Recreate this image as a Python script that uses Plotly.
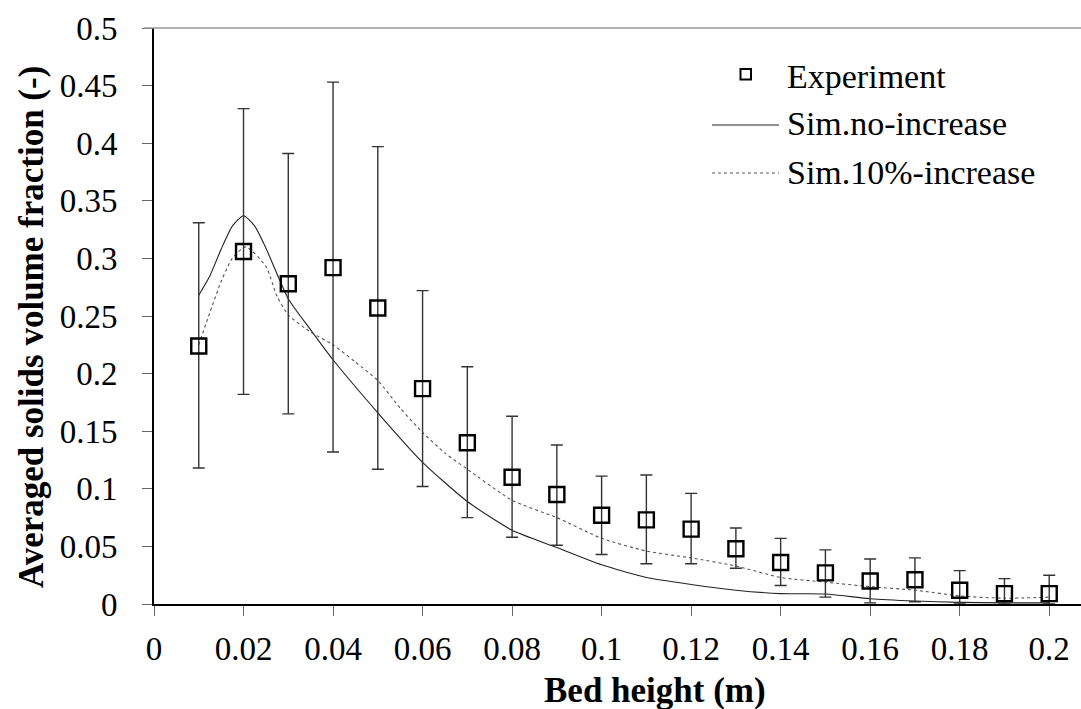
import plotly.graph_objects as go

# ---------------- data ----------------
exp_x = [0.01, 0.02, 0.03, 0.04, 0.05, 0.06, 0.07, 0.08, 0.09, 0.10,
         0.11, 0.12, 0.13, 0.14, 0.15, 0.16, 0.17, 0.18, 0.19, 0.20]
exp_y = [0.224, 0.306, 0.278, 0.292, 0.257, 0.187, 0.140, 0.110, 0.095, 0.077,
         0.073, 0.065, 0.048, 0.036, 0.027, 0.020, 0.021, 0.012, 0.009, 0.009]
exp_hi = [0.331, 0.430, 0.391, 0.453, 0.397, 0.272, 0.206, 0.163, 0.138, 0.111,
          0.112, 0.096, 0.066, 0.057, 0.047, 0.039, 0.040, 0.029, 0.022, 0.025]
exp_lo = [0.118, 0.182, 0.165, 0.132, 0.117, 0.102, 0.075, 0.058, 0.051, 0.043,
          0.035, 0.035, 0.031, 0.016, 0.006, 0.001, 0.002, 0.000, 0.000, 0.000]

sim0_x = [0.01, 0.0125, 0.015, 0.0175, 0.02, 0.0225, 0.025, 0.03, 0.035, 0.04,
          0.05, 0.06, 0.07, 0.08, 0.09, 0.10, 0.11, 0.12, 0.13, 0.14,
          0.15, 0.16, 0.17, 0.18, 0.19, 0.20]
sim0_y = [0.268, 0.285, 0.308, 0.328, 0.337, 0.328, 0.309, 0.265, 0.238, 0.212,
          0.166, 0.123, 0.089, 0.064, 0.049, 0.034, 0.023, 0.017, 0.012, 0.009,
          0.0087, 0.0046, 0.0026, 0.0014, 0.001, 0.001]

sim10_x = [0.01, 0.015, 0.0175, 0.0205, 0.025, 0.0275, 0.03, 0.035, 0.04, 0.045,
           0.05, 0.055, 0.06, 0.065, 0.07, 0.08, 0.09, 0.10, 0.11, 0.12,
           0.13, 0.14, 0.15, 0.16, 0.17, 0.18, 0.19, 0.20]
sim10_y = [0.225, 0.280, 0.300, 0.310, 0.293, 0.267, 0.251, 0.236, 0.225, 0.210,
           0.194, 0.170, 0.149, 0.131, 0.117, 0.090, 0.075, 0.057, 0.046, 0.040,
           0.033, 0.023, 0.019, 0.015, 0.012, 0.007, 0.005, 0.006]

x_ticks = [0, 0.02, 0.04, 0.06, 0.08, 0.1, 0.12, 0.14, 0.16, 0.18, 0.2]
x_tick_labels = ["0", "0.02", "0.04", "0.06", "0.08", "0.1", "0.12", "0.14", "0.16", "0.18", "0.2"]
y_ticks = [0, 0.05, 0.1, 0.15, 0.2, 0.25, 0.3, 0.35, 0.4, 0.45, 0.5]
y_tick_labels = ["0", "0.05", "0.1", "0.15", "0.2", "0.25", "0.3", "0.35", "0.4", "0.45", "0.5"]

legend_names = ["Experiment", "Sim.no-increase", "Sim.10%-increase"]

# ---------------- layout geometry ----------------
W, H = 1081, 709
L, R, T, B = 154, 0, 28, 105
PW, PH = W - L - R, H - T - B
FONT = "'Liberation Serif', 'Times New Roman', Times, serif"
FS = 33

def px(xp):
    return (xp - L) / PW

def py(yp):
    return (H - B - yp) / PH

fig = go.Figure()

fig.add_trace(go.Scatter(
    x=sim0_x, y=sim0_y, mode="lines", name=legend_names[1],
    line=dict(color="#222222", width=1.1, shape="spline", smoothing=0.6),
    showlegend=False))

fig.add_trace(go.Scatter(
    x=sim10_x, y=sim10_y, mode="lines", name=legend_names[2],
    line=dict(color="#555555", width=1.1, dash="dot", shape="spline", smoothing=0.6),
    showlegend=False))

fig.add_trace(go.Scatter(
    x=exp_x, y=exp_y, mode="markers", name=legend_names[0],
    marker=dict(symbol="square-open", size=15, color="black", line=dict(width=2.4, color="black")),
    error_y=dict(type="data", symmetric=False,
                 array=[h - v for h, v in zip(exp_hi, exp_y)],
                 arrayminus=[v - l for v, l in zip(exp_y, exp_lo)],
                 color="#333333", thickness=1.4, width=6),
    showlegend=False))

fig.update_layout(
    width=W, height=H,
    margin=dict(l=L, r=R, t=T, b=B),
    paper_bgcolor="white", plot_bgcolor="white",
    font=dict(family=FONT, size=FS, color="black"),
    showlegend=False,
    xaxis=dict(range=[0, 0.2071], tickvals=x_ticks, ticktext=x_tick_labels,
               showgrid=False, zeroline=False, showline=True, linecolor="black", linewidth=1.6,
               ticks="outside", ticklen=10, tickcolor="#666666", tickwidth=1.2,
               ticklabelstandoff=5,
               tickfont=dict(family=FONT, size=FS)),
    yaxis=dict(range=[0, 0.5], tickvals=y_ticks, ticktext=y_tick_labels,
               showgrid=False, zeroline=False, showline=True, linecolor="black", linewidth=1.6,
               ticks="outside", ticklen=10, tickcolor="#666666", tickwidth=1.2,
               ticklabelstandoff=18,
               tickfont=dict(family=FONT, size=FS)),
)

shapes = [
    # top border line
    dict(type="line", xref="paper", yref="paper", x0=px(144), x1=1, y0=1, y1=1,
         line=dict(color="#9a9a9a", width=1.6)),
    # legend symbols
    dict(type="rect", xref="paper", yref="paper", x0=px(740.5), x1=px(751), y0=py(79.5), y1=py(69),
         line=dict(color="black", width=2)),
    dict(type="line", xref="paper", yref="paper", x0=px(712), x1=px(779), y0=py(125), y1=py(125),
         line=dict(color="#222222", width=1.1)),
    dict(type="line", xref="paper", yref="paper", x0=px(712), x1=px(779), y0=py(173), y1=py(173),
         line=dict(color="#555555", width=1.1, dash="dot")),
]

annotations = [
    dict(text=legend_names[0], xref="paper", yref="paper", x=px(785), y=py(76),
         xanchor="left", yanchor="middle", showarrow=False, font=dict(family=FONT, size=34)),
    dict(text=legend_names[1], xref="paper", yref="paper", x=px(785), y=py(124),
         xanchor="left", yanchor="middle", showarrow=False, font=dict(family=FONT, size=34)),
    dict(text=legend_names[2], xref="paper", yref="paper", x=px(785), y=py(172),
         xanchor="left", yanchor="middle", showarrow=False, font=dict(family=FONT, size=34)),
    dict(text="<b>Bed height (m)</b>", xref="paper", yref="paper", x=px(655), y=py(690),
         xanchor="center", yanchor="middle", showarrow=False, font=dict(family=FONT, size=35)),
    dict(text="<b>Averaged solids volume fraction (-)</b>", xref="paper", yref="paper",
         x=px(31), y=py(327), textangle=-90,
         xanchor="center", yanchor="middle", showarrow=False, font=dict(family=FONT, size=35)),
]

fig.update_layout(shapes=shapes, annotations=annotations)

fig.write_html("out.html", config={"displayModeBar": False},
               post_script="document.body.style.margin='0px';document.body.style.overflow='hidden';")
